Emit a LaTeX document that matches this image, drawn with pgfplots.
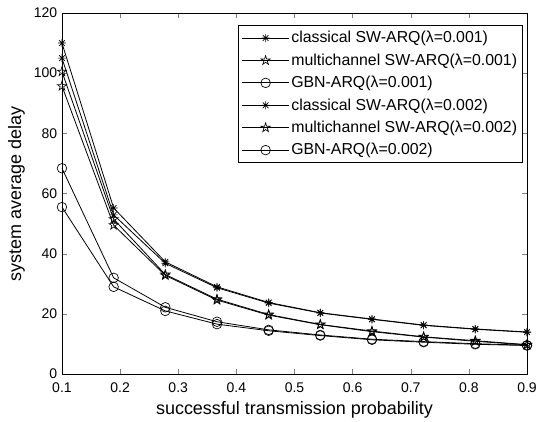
\documentclass[border=0pt]{standalone}
\usepackage{fontspec}
\setmainfont{Liberation Sans}
\usepackage{pgfplots}
\pgfplotsset{compat=1.18}

% MATLAB-like markers: '*' (plus and cross) and 'p' (pentagram outline)
\pgfdeclareplotmark{mstar}{%
  \pgfpathmoveto{\pgfqpoint{-\pgfplotmarksize}{0pt}}\pgfpathlineto{\pgfqpoint{\pgfplotmarksize}{0pt}}%
  \pgfpathmoveto{\pgfqpoint{0pt}{-\pgfplotmarksize}}\pgfpathlineto{\pgfqpoint{0pt}{\pgfplotmarksize}}%
  \pgfpathmoveto{\pgfqpoint{-0.707\pgfplotmarksize}{-0.707\pgfplotmarksize}}\pgfpathlineto{\pgfqpoint{0.707\pgfplotmarksize}{0.707\pgfplotmarksize}}%
  \pgfpathmoveto{\pgfqpoint{-0.707\pgfplotmarksize}{0.707\pgfplotmarksize}}\pgfpathlineto{\pgfqpoint{0.707\pgfplotmarksize}{-0.707\pgfplotmarksize}}%
  \pgfusepathqstroke}
\pgfdeclareplotmark{pent}{%
  \pgfpathmoveto{\pgfpointpolar{90}{\pgfplotmarksize}}%
  \pgfpathlineto{\pgfpointpolar{126}{0.382\pgfplotmarksize}}%
  \pgfpathlineto{\pgfpointpolar{162}{\pgfplotmarksize}}%
  \pgfpathlineto{\pgfpointpolar{198}{0.382\pgfplotmarksize}}%
  \pgfpathlineto{\pgfpointpolar{234}{\pgfplotmarksize}}%
  \pgfpathlineto{\pgfpointpolar{270}{0.382\pgfplotmarksize}}%
  \pgfpathlineto{\pgfpointpolar{306}{\pgfplotmarksize}}%
  \pgfpathlineto{\pgfpointpolar{342}{0.382\pgfplotmarksize}}%
  \pgfpathlineto{\pgfpointpolar{18}{\pgfplotmarksize}}%
  \pgfpathlineto{\pgfpointpolar{54}{0.382\pgfplotmarksize}}%
  \pgfpathclose\pgfusepathqstroke}

\begin{document}
\begin{tikzpicture}
\begin{axis}[
    scale only axis,
    width=349pt, height=271pt,
    xmin=0.1, xmax=0.9, ymin=0, ymax=120,
    xtick={0.1,0.2,...,0.9}, ytick={0,20,...,120},
    /pgf/number format/assume math mode=true,
    tick label style={font=\fontsize{10.5}{12}\selectfont},
    xticklabel style={yshift=-3pt, /pgf/number format/.cd,fixed,precision=1},
    label style={font=\fontsize{13.5}{16}\selectfont},
    xlabel={successful transmission probability},
    ylabel={system average delay},
    tick align=inside, major tick length=4pt,
    axis line style={line width=0.6pt},
    legend cell align=left,
    legend style={at={(0.991,0.967)}, anchor=north east, draw=black, line width=0.6pt,
      font=\fontsize{11.9}{14}\selectfont, row sep=2.7pt, inner sep=2.5pt,
      nodes={inner xsep=1.5pt}},
    legend image code/.code={\draw[mark repeat=2, mark phase=2, #1]
      plot coordinates {(0pt,0pt) (17.5pt,0pt) (35pt,0pt)};},
    every axis plot/.append style={black, line width=0.6pt, mark options={solid, line width=0.5pt}},
  ]
  \addplot[mark=mstar, mark size=3pt] coordinates {(0.1,105) (0.1889,52.9) (0.2778,36.8) (0.3667,28.7) (0.4556,23.6) (0.5444,20.3) (0.6333,18.2) (0.7222,16.2) (0.8111,14.9) (0.9,13.9)};
  \addlegendentry{classical SW-ARQ(λ=0.001)}
  \addplot[mark=pent, mark size=3.6pt] coordinates {(0.1,95.7) (0.1889,49.5) (0.2778,32.8) (0.3667,24.6) (0.4556,19.6) (0.5444,16.4) (0.6333,14.1) (0.7222,12.3) (0.8111,10.9) (0.9,9.7)};
  \addlegendentry{multichannel SW-ARQ(λ=0.001)}
  \addplot[mark=o, mark size=3.6pt] coordinates {(0.1,55.5) (0.1889,29) (0.2778,21) (0.3667,16.6) (0.4556,14.4) (0.5444,12.8) (0.6333,11.4) (0.7222,10.6) (0.8111,9.9) (0.9,9.5)};
  \addlegendentry{GBN-ARQ(λ=0.001)}
  \addplot[mark=mstar, mark size=3pt] coordinates {(0.1,110) (0.1889,55.2) (0.2778,37.3) (0.3667,29) (0.4556,23.8) (0.5444,20.4) (0.6333,18.3) (0.7222,16.3) (0.8111,15) (0.9,14)};
  \addlegendentry{classical SW-ARQ(λ=0.002)}
  \addplot[mark=pent, mark size=3.6pt] coordinates {(0.1,100.5) (0.1889,51.5) (0.2778,33.1) (0.3667,24.9) (0.4556,19.8) (0.5444,16.5) (0.6333,14.3) (0.7222,12.4) (0.8111,11.1) (0.9,9.8)};
  \addlegendentry{multichannel SW-ARQ(λ=0.002)}
  \addplot[mark=o, mark size=3.6pt] coordinates {(0.1,68.4) (0.1889,32) (0.2778,22.2) (0.3667,17.4) (0.4556,14.7) (0.5444,13) (0.6333,11.6) (0.7222,10.8) (0.8111,10.1) (0.9,9.6)};
  \addlegendentry{GBN-ARQ(λ=0.002)}
\end{axis}
\pgfresetboundingbox
\path ([shift={(-46.5pt,-35.25pt)}]current axis.south west) rectangle ([shift={(6.75pt,9.75pt)}]current axis.north east);
\end{tikzpicture}
\end{document}
